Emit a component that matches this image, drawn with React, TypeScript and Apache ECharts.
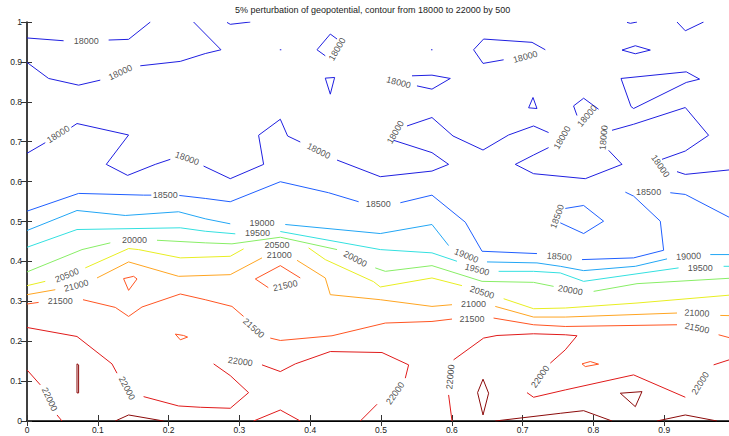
import React, { useEffect, useRef } from "react";
import * as echarts from "echarts";

type Pt = [number, number];
type Lab = [number, number, number];

const TITLE = "5% perturbation of geopotential, contour from 18000 to 22000 by 500";
const levels = [18000, 18500, 19000, 19500, 20000, 20500, 21000, 21500, 22000, 22500];
const levelColors = ["#1f1fe0", "#1f5fff", "#22a6f5", "#33e0e0", "#88ee66", "#e8ee22", "#ffa522", "#ff5522", "#e01a1a", "#8b0a0a"];
const xTicks = [0, 0.1, 0.2, 0.3, 0.4, 0.5, 0.6, 0.7, 0.8, 0.9, 1];
const yTicks = [0, 0.1, 0.2, 0.3, 0.4, 0.5, 0.6, 0.7, 0.8, 0.9, 1];

const contour18000: Pt[][] = [
  [[0, 0.96], [0.0517, 0.953]],
  [[0.1153, 0.9548], [0.1435, 0.9565], [0.1742, 1.0]],
  [[0.2353, 1.0], [0.274, 0.9304], [0.2518, 0.9209], [0.2165, 0.9013], [0.16, 0.8902]],
  [[0.1035, 0.8543], [0.0729, 0.8417], [0.0305, 0.8585], [0, 0.8987]],
  [[0.2825, 0.999], [0.2871, 0.9942], [0.3154, 1.0]],
  [[0.3571, 0.9304], [0.3592, 0.9304]],
  [[0.4379, 0.9573], [0.4284, 0.9698], [0.4096, 0.9304], [0.4213, 0.9153]],
  [[0.4213, 0.8593], [0.4345, 0.861], [0.4284, 0.8191], [0.4213, 0.8593]],
  [[0.5706, 0.9304], [0.5727, 0.9304]],
  [[0.5438, 0.8651], [0.572, 0.8668], [0.5979, 0.8585], [0.572, 0.8317], [0.5508, 0.8399]],
  [[0.6732, 0.9053], [0.6441, 0.8962], [0.6308, 0.9304], [0.6449, 0.9573], [0.7133, 0.949], [0.7321, 0.9304]],
  [[0.7085, 0.7849], [0.7147, 0.8108], [0.7203, 0.7832], [0.7085, 0.7849]],
  [[0, 0.6709], [0.0258, 0.6975]],
  [[0.0626, 0.736], [0.0706, 0.7455], [0.1435, 0.7168], [0.112, 0.6432], [0.1421, 0.6156], [0.1812, 0.6432], [0.2024, 0.6558]],
  [[0.2494, 0.639], [0.2871, 0.6073], [0.3342, 0.6432], [0.3271, 0.7161], [0.3578, 0.7563], [0.3681, 0.7143], [0.386, 0.6992]],
  [[0.4379, 0.654], [0.499, 0.6123], [0.572, 0.6264], [0.5955, 0.6432], [0.572, 0.6726], [0.5178, 0.7035]],
  [[0.5367, 0.7394], [0.572, 0.7606], [0.6017, 0.7143], [0.6441, 0.6791], [0.6802, 0.7168], [0.7155, 0.7394], [0.7367, 0.7229]],
  [[0.7367, 0.6852], [0.7155, 0.6666], [0.6897, 0.6432], [0.7155, 0.6198], [0.7886, 0.6073], [0.8404, 0.6432], [0.8215, 0.6784]],
  [[0.8263, 0.7286], [0.8568, 0.7437], [0.9298, 0.7857], [0.9627, 0.7161], [0.9298, 0.6766], [0.8969, 0.6558]],
  [[0.9181, 0.6249], [0.9298, 0.6181], [1.0, 0.6307]],
  [[0.8073, 0.7814], [0.7862, 0.809], [0.772, 0.7897], [0.7768, 0.7657]],
  [[0.8475, 0.999], [0.8522, 0.9967], [0.8616, 1.0]],
  [[0.9181, 1.0], [0.9298, 0.978], [0.9556, 1.0]],
  [[0.8404, 0.9296], [0.8592, 0.9405], [0.8804, 0.9296], [0.8592, 0.9204], [0.8404, 0.9296]],
  [[0.839, 0.8585], [0.9312, 0.8751], [0.95, 0.8568], [0.9312, 0.8485], [0.8568, 0.7832], [0.8531, 0.7882], [0.839, 0.8585]],
];
const labels18000: Lab[] = [
  [0.0838, 0.953, 0], [0.1319, 0.8736, 25], [0.0442, 0.7186, 32], [0.226, 0.6583, -20],
  [0.4119, 0.6766, -27], [0.4379, 0.932, 60], [0.5249, 0.8485, -15], [0.7038, 0.9128, 15],
  [0.5202, 0.7236, 60], [0.7557, 0.7103, 60], [0.791, 0.7646, 50], [0.8144, 0.7103, 85],
  [0.8945, 0.639, -55],
];

const contour18500: Pt[][] = [
  [[0, 0.5259], [0.0729, 0.5704], [0.1647, 0.5661], [0.1756, 0.5661]],
  [[0.2151, 0.5653], [0.2518, 0.5578], [0.2871, 0.5495], [0.3578, 0.5997], [0.426, 0.5721], [0.4684, 0.5495]],
  [[0.5273, 0.547], [0.572, 0.5661], [0.6191, 0.4982], [0.6427, 0.4254], [0.7203, 0.4196]],
  [[0.7839, 0.4045], [0.8568, 0.4088], [0.8992, 0.4279], [0.8945, 0.5008], [0.8568, 0.5636], [0.8451, 0.5736]],
  [[0.9086, 0.5721], [0.9298, 0.5678], [1.0, 0.503]],
  [[0.7603, 0.5327], [0.7862, 0.5402], [0.8144, 0.5008], [0.7862, 0.4698], [0.7532, 0.4967]],
];
const labels18500: Lab[] = [
  [0.1953, 0.5661, 0], [0.4962, 0.544, 0], [0.7518, 0.4121, -5], [0.878, 0.5736, 0], [0.7489, 0.5126, 70],
];

const contour19000: Pt[][] = [
  [[0, 0.4774], [0.0706, 0.5276], [0.1388, 0.5151], [0.2141, 0.5244], [0.2518, 0.5068], [0.2871, 0.4942]],
  [[0.3648, 0.4925], [0.499, 0.4698], [0.572, 0.4925], [0.5955, 0.4397]],
  [[0.6497, 0.3987], [0.7203, 0.3962], [0.7532, 0.3877], [0.7862, 0.3769], [0.8592, 0.3877], [0.904, 0.4063]],
  [[0.9651, 0.4171], [1.0, 0.4171]],
];
const labels19000: Lab[] = [[0.3319, 0.495, 0], [0.6205, 0.4146, -22], [0.9345, 0.4128, 3]];

const contour19500: Pt[][] = [
  [[0, 0.4354], [0.0706, 0.4799], [0.2165, 0.4842], [0.2518, 0.4756], [0.2942, 0.4691]],
  [[0.3578, 0.4749], [0.499, 0.4296], [0.572, 0.4214], [0.6073, 0.4003]],
  [[0.6661, 0.3751], [0.7155, 0.3751], [0.7532, 0.3711], [0.7862, 0.35], [0.9203, 0.3837]],
  [[0.9839, 0.3877], [1.0, 0.3877]],
];
const labels19500: Lab[] = [[0.3257, 0.4705, 0], [0.6356, 0.3794, -15], [0.951, 0.3837, 0]];

const contour20000: Pt[][] = [
  [[0, 0.3736], [0.0777, 0.4296], [0.1177, 0.4465]],
  [[0.1836, 0.453], [0.2518, 0.4465], [0.2895, 0.444], [0.3578, 0.4606], [0.4379, 0.4296]],
  [[0.4919, 0.3837], [0.5061, 0.3751], [0.572, 0.3894], [0.6427, 0.35], [0.7155, 0.3475], [0.7438, 0.3374]],
  [[0.8003, 0.3249], [0.8616, 0.3442], [1.0, 0.3585]],
];
const labels20000: Lab[] = [[0.152, 0.453, 0], [0.4637, 0.4063, -28], [0.7674, 0.3279, -10]];

const contour20500: Pt[][] = [
  [[0, 0.3392], [0.0258, 0.35]],
  [[0.0823, 0.3837], [0.1435, 0.4322], [0.1576, 0.4296], [0.2165, 0.4088], [0.2871, 0.4128], [0.3059, 0.4314]],
  [[0.3977, 0.4339], [0.4213, 0.4045], [0.4895, 0.3492], [0.499, 0.3359], [0.572, 0.3585], [0.6144, 0.3392]],
  [[0.6732, 0.3065], [0.7155, 0.2814], [0.7603, 0.2832], [0.8616, 0.2957], [1.0, 0.3166]],
];
const labels20500: Lab[] = [[0.0565, 0.3651, 22], [0.3531, 0.4417, 0], [0.6427, 0.3224, -18]];

const contour21000: Pt[][] = [
  [[0, 0.3166], [0.04, 0.3291]],
  [[0.0989, 0.3585], [0.1435, 0.3987], [0.2141, 0.3626], [0.2871, 0.3668], [0.3319, 0.4088]],
  [[0.3814, 0.4028], [0.4213, 0.3585], [0.4284, 0.3166], [0.499, 0.304], [0.572, 0.2872], [0.6003, 0.2915]],
  [[0.6614, 0.2872], [0.7155, 0.2605], [0.7603, 0.2605], [0.9181, 0.2706]],
  [[0.9792, 0.2646], [1.0, 0.2638]],
];
const labels21000: Lab[] = [[0.0696, 0.3392, 15], [0.3564, 0.4151, 0], [0.6308, 0.2932, 0], [0.9463, 0.2706, -3]];

const contour21500: Pt[][] = [
  [[0, 0.2932], [0.0164, 0.2972]],
  [[0.0791, 0.304], [0.1247, 0.2847], [0.1435, 0.2621], [0.1624, 0.2857], [0.2165, 0.3183], [0.2518, 0.304], [0.2895, 0.2872], [0.3059, 0.2621]],
  [[0.3436, 0.2078], [0.3578, 0.2018], [0.4308, 0.2136], [0.5061, 0.2455], [0.572, 0.2495], [0.6003, 0.2555]],
  [[0.659, 0.258], [0.7155, 0.2412], [0.7603, 0.2369], [0.9181, 0.2412]],
  [[0.9768, 0.2161], [1.0, 0.205]],
  [[0.3408, 0.3342], [0.3225, 0.356], [0.3578, 0.3894], [0.386, 0.3585]],
  [[0.1364, 0.3568], [0.1506, 0.3626], [0.1554, 0.356], [0.1435, 0.3274], [0.1364, 0.3568]],
  [[0.2095, 0.2178], [0.2212, 0.2143], [0.2268, 0.2103], [0.2165, 0.2035], [0.2095, 0.2178]],
  [[0.7839, 0.1432], [0.7956, 0.149], [0.8073, 0.1425], [0.7886, 0.1364], [0.7839, 0.1432]],
];
const labels21500: Lab[] = [[0.047, 0.3015, 0], [0.32, 0.2329, -42], [0.6285, 0.2555, 0], [0.9463, 0.2329, -12], [0.3648, 0.3392, 12]];

const contour22000: Pt[][] = [
  [[0, 0.2344], [0.0706, 0.2118], [0.12, 0.1432], [0.1271, 0.1198]],
  [[0.1647, 0.0611], [0.2141, 0.0377], [0.2448, 0.0344], [0.2871, 0.0319], [0.313, 0.0711], [0.2871, 0.1138], [0.2636, 0.1432]],
  [[0.3319, 0.1407], [0.3578, 0.1239], [0.379, 0.1432], [0.4284, 0.1741], [0.5014, 0.1716], [0.539, 0.1407], [0.5343, 0.1073]],
  [[0.4944, 0.042], [0.4708, 0]],
  [[0, 0.1281], [0.0188, 0.0905]],
  [[0.0424, 0.0151], [0.0494, 0]],
  [[0.32, 0], [0.3578, 0.0276], [0.386, 0]],
  [[0.6003, 0], [0.5955, 0.0653]],
  [[0.6025, 0.1533], [0.6449, 0.2078], [0.6638, 0.2143], [0.7155, 0.2186], [0.7603, 0.2161], [0.7768, 0.2136], [0.7603, 0.1784], [0.7391, 0.145]],
  [[0.7062, 0.0711], [0.7155, 0.0595], [0.7603, 0.0779], [0.8568, 0.1156], [0.9298, 0.0595]],
  [[0.9698, 0.1407], [1.0, 0.158]],
];
const labels22000: Lab[] = [
  [0.1412, 0.0822, -62], [0.0319, 0.0545, -65], [0.3013, 0.149, -8], [0.5202, 0.0696, 55],
  [0.5979, 0.1106, 85], [0.7249, 0.1113, 55], [0.951, 0.0947, 58],
];

const contour22500: Pt[][] = [
  [[0.0706, 0.1432], [0.0729, 0.1407], [0.0729, 0.0704], [0.0706, 0.0704], [0.0706, 0.1432]],
  [[0.1247, 0], [0.1435, 0.0151], [0.1929, 0]],
  [[0.6441, 0.1048], [0.652, 0.0696], [0.6441, 0.0151], [0.6364, 0.0711], [0.6441, 0.1048]],
  [[0.6614, 0], [0.7532, 0.0193], [0.7862, 0.0259], [0.8263, 0]],
  [[0.838, 0.0696], [0.8686, 0.0736], [0.8592, 0.0359], [0.838, 0.0696]],
  [[0.8898, 0], [0.9298, 0.0151], [0.9746, 0]],
];
const labels22500: Lab[] = [];

const contours = [contour18000, contour18500, contour19000, contour19500, contour20000, contour20500, contour21000, contour21500, contour22000, contour22500];
const labelSets = [labels18000, labels18500, labels19000, labels19500, labels20000, labels20500, labels21000, labels21500, labels22000, labels22500];

const FONT = "'Liberation Sans', Arial, Helvetica, sans-serif";

function flatten(lines: Pt[][]) {
  const out: (number | null)[][] = [];
  lines.forEach((l, i) => {
    if (i) out.push([null, null]);
    l.forEach((p) => out.push([p[0], p[1]]));
  });
  return out;
}

export default function App() {
  const ref = useRef<HTMLDivElement>(null);
  useEffect(() => {
    if (!ref.current) return;
    const chart = echarts.init(ref.current, undefined, { renderer: "svg" });
    const lineSeries = contours.map((c, i) => ({
      type: "line",
      name: String(levels[i]),
      data: flatten(c),
      xAxisIndex: 0,
      yAxisIndex: 0,
      showSymbol: false,
      symbol: "none",
      connectNulls: false,
      silent: true,
      lineStyle: { color: levelColors[i], width: 1 },
      z: 2,
    }));
    const labelData = labelSets.flatMap((set, li) =>
      set.map(([x, y, a]) => ({ name: String(levels[li]), value: [x, y], label: { rotate: a } }))
    );
    const axisTickStyle = { color: "#333", width: 1 };
    chart.setOption({
      animation: false,
      backgroundColor: "#ffffff",
      title: {
        text: TITLE,
        left: 235,
        top: 5,
        padding: 0,
        textStyle: { fontSize: 9, fontWeight: "normal", color: "#222", fontFamily: FONT },
      },
      grid: { left: 27, top: 22, width: 708, height: 399, containLabel: false, outerBoundsMode: "none" },
      xAxis: [
        {
          type: "value", min: xTicks[0], max: xTicks[xTicks.length - 1], interval: 0.1, position: "bottom",
          axisLine: { show: true, lineStyle: { color: "#000", width: 1.5 } },
          axisTick: { show: true, inside: true, length: 6, lineStyle: axisTickStyle },
          axisLabel: { fontSize: 8.5, color: "#222", margin: 4, fontFamily: FONT, showMaxLabel: false },
          splitLine: { show: false },
        },
        {
          type: "value", min: xTicks[0], max: xTicks[xTicks.length - 1], interval: 0.1, position: "top",
          axisLine: { show: true, lineStyle: { color: "#000", width: 1 } },
          axisTick: { show: true, inside: true, length: 5, lineStyle: axisTickStyle },
          axisLabel: { show: false },
          splitLine: { show: false },
        },
      ],
      yAxis: [
        {
          type: "value", min: yTicks[0], max: yTicks[yTicks.length - 1], interval: 0.1, position: "left",
          axisLine: { show: true, lineStyle: { color: "#000", width: 1.5 } },
          axisTick: { show: true, inside: true, length: 5, lineStyle: axisTickStyle },
          axisLabel: { fontSize: 8.5, color: "#222", margin: 5, fontFamily: FONT },
          splitLine: { show: false },
        },
        {
          type: "value", min: yTicks[0], max: yTicks[yTicks.length - 1], interval: 0.1, position: "right",
          axisLine: { show: false },
          axisTick: { show: true, inside: true, length: 6, lineStyle: axisTickStyle },
          axisLabel: { show: false },
          splitLine: { show: false },
        },
      ],
      series: [
        ...lineSeries,
        {
          type: "scatter",
          data: labelData,
          xAxisIndex: 0,
          yAxisIndex: 0,
          symbol: "circle",
          symbolSize: 1,
          silent: true,
          itemStyle: { color: "rgba(0,0,0,0)" },
          label: {
            show: true,
            position: "inside",
            formatter: "{b}",
            fontSize: 9,
            color: "#222",
            fontFamily: FONT,
            align: "center",
            verticalAlign: "middle",
          },
          labelLayout: { hideOverlap: false },
          z: 5,
        },
      ],
    });
    return () => chart.dispose();
  }, []);
  return <div ref={ref} style={{ position: "fixed", left: 0, top: 0, width: 729, height: 436 }} />;
}
